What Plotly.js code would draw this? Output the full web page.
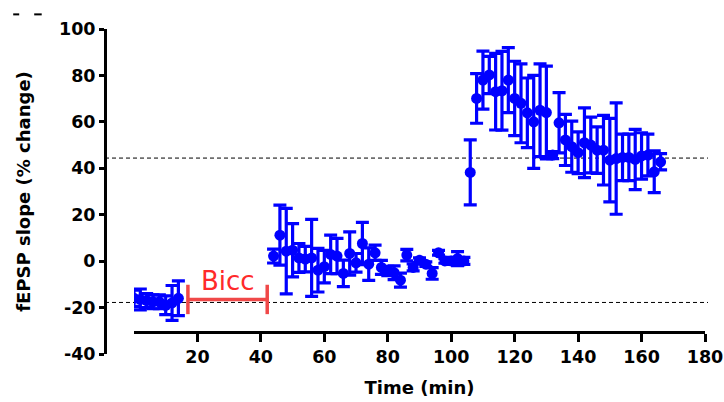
<!DOCTYPE html>
<html>
<head>
<meta charset="utf-8">
<script src="https://cdn.plot.ly/plotly-3.0.1.min.js"></script>
<style>html,body{margin:0;padding:0;background:#fff;}#chart{width:724px;height:402px;}</style>
</head>
<body>
<div id="chart"></div>
<script>
// Time points (min)
const timeBaseline = [0, 2, 4, 6, 8, 10, 12, 14];
const timeBicc = [44, 46, 48, 50, 52, 54, 56, 58, 60, 62, 64, 66, 68, 70, 72, 74, 76, 78, 80, 82, 84, 86, 88, 90, 92, 94, 96, 98, 100, 102, 104];
const timeLTP = [106, 108, 110, 112, 114, 116, 118, 120, 122, 124, 126, 128, 130, 132, 134, 136, 138, 140, 142, 144, 146, 148, 150, 152, 154, 156, 158, 160, 162, 164, 166];

// fEPSP slope (% change), mean
const slopeBaseline = [-16, -16.5, -17, -17.5, -17.5, -19, -18, -16];
const slopeBicc = [2.2, 11.2, 4.3, 4.7, 1.4, 0.9, 1.4, -3.9, -2.4, 2.9, 2.2, -5.3, 3.3, -0.7, 7.6, -1.3, 3.6, -2.7, -4.2, -5, -8.2, 2.6, -2.7, 0.4, -1.3, -5.3, 3.6, 0.1, 0.1, 1.1, 0.1];
const slopeLTP = [38.2, 70.1, 78, 80.2, 73, 73.4, 78, 70.1, 68, 63.9, 60, 65, 64, 45.7, 59.6, 52.2, 49.3, 46.7, 51, 50, 47.8, 47.8, 43.5, 44.2, 44.7, 44.7, 43.8, 45.3, 45.7, 38.5, 42.8];

// error (SEM)
const errBaseline = [3.5, 4.5, 3, 3, 3, 4, 7.5, 7.5];
const errBicc = [3, 12.9, 18.4, 11.5, 6.2, 5.5, 16.6, 9.4, 7, 8.3, 7.6, 5.7, 9.3, 4, 9.1, 7, 3.3, 3, 2, 3, 3, 2.5, 1.5, 1, 1, 2.5, 1, 1, 1.5, 3, 1.5];
const errLTP = [14, 10.7, 12.5, 8, 16.5, 17, 14, 16, 17, 15, 20, 20, 20, 1.5, 13, 11, 11, 9, 15, 12, 10, 15, 18, 24, 10, 10, 13, 10, 9, 9, 3.5];

// Drug application and reference levels
const biccLabel = 'Bicc';
const biccSpan = [17, 42];
const biccLevel = -16.5;
const refLevels = [44.4, -17.8];

const xTicks = [20, 40, 60, 80, 100, 120, 140, 160, 180];
const yTicks = [-40, -20, 0, 20, 40, 60, 80, 100];

const allTime = timeBaseline.concat(timeBicc, timeLTP);
const allSlope = slopeBaseline.concat(slopeBicc, slopeLTP);
const allErr = errBaseline.concat(errBicc, errLTP);

const blue = '#0000ff';
const red = '#f04848';
const fam = 'DejaVu Sans, Verdana, sans-serif';
const tickFont = {family: fam, size: 17.5, color: '#000', weight: 'bold'};
const titleFont = {family: fam, size: 18, color: '#000', weight: 'bold'};

const traces = [
  {
    x: biccSpan, y: [biccLevel, biccLevel],
    type: 'scatter', mode: 'lines+markers',
    line: {color: red, width: 3.5},
    marker: {symbol: 'line-ns', size: 21, line: {color: red, width: 3.5}},
    hoverinfo: 'skip', showlegend: false
  },
  {
    x: allTime, y: allSlope,
    type: 'scatter', mode: 'markers',
    marker: {color: blue, size: 11},
    error_y: {type: 'data', array: allErr, visible: true, color: blue, thickness: 3.2, width: 6.5},
    showlegend: false
  }
];

const shapes = refLevels.map(v => ({
  type: 'line', xref: 'paper', yref: 'y', x0: 0, x1: 1.005, y0: v, y1: v,
  line: {color: '#000', width: 1, dash: '4px,3px'}, layer: 'below'
}));
shapes.push(
  {type: 'line', xref: 'paper', yref: 'paper', x0: -0.153, x1: -0.143, y0: 1.045, y1: 1.045, line: {color: '#000', width: 2}},
  {type: 'line', xref: 'paper', yref: 'paper', x0: -0.118, x1: -0.1055, y0: 1.045, y1: 1.045, line: {color: '#000', width: 2}}
);

const layout = {
  width: 724, height: 402,
  margin: {l: 105, r: 19, t: 29, b: 48},
  paper_bgcolor: '#fff', plot_bgcolor: '#fff',
  showlegend: false,
  xaxis: {
    domain: [0.0483, 1], range: [0, 180],
    anchor: 'free', position: 0.0677,
    tickvals: xTicks, ticktext: xTicks.map(String),
    ticks: 'outside', ticklen: 8, tickwidth: 3, tickcolor: '#000',
    showline: true, linewidth: 3, linecolor: '#000',
    showgrid: false, zeroline: false,
    tickfont: tickFont,
    title: {text: 'Time (min)', font: titleFont, standoff: 15}
  },
  yaxis: {
    range: [-40, 100],
    anchor: 'free', position: 0,
    tickvals: yTicks, ticktext: yTicks.map(String),
    ticks: 'outside', ticklen: 5, tickwidth: 3, tickcolor: '#000',
    showline: true, linewidth: 3, linecolor: '#000',
    showgrid: false, zeroline: false,
    tickfont: tickFont,
    title: {text: 'fEPSP slope (% change)', font: titleFont, standoff: 22}
  },
  shapes: shapes,
  annotations: [{
    x: (biccSpan[0] + biccSpan[1]) / 2, y: biccLevel, xref: 'x', yref: 'y',
    text: biccLabel, showarrow: false, yanchor: 'bottom', yshift: 1,
    font: {family: 'DejaVu Sans, Arial, sans-serif', size: 26, color: '#ff2a2a'}
  }]
};

Plotly.newPlot('chart', traces, layout, {displayModeBar: false, staticPlot: true});
</script>
</body>
</html>
